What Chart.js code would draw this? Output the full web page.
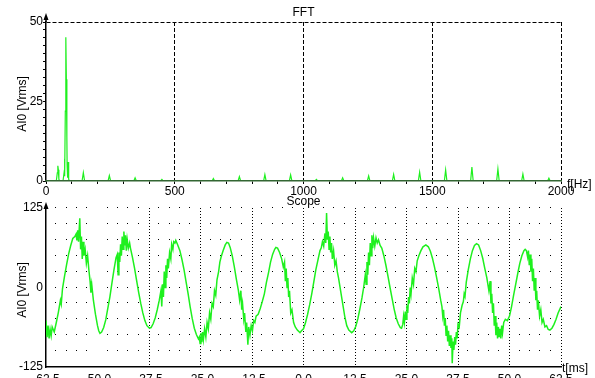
<!DOCTYPE html>
<html>
<head>
<meta charset="utf-8">
<script src="https://cdn.jsdelivr.net/npm/chart.js@4.4.0/dist/chart.umd.min.js"></script>
<style>
  html, body { margin: 0; padding: 0; background: #fff; overflow: hidden; }
  #wrap { position: relative; width: 595px; height: 378px; overflow: hidden; }
  #fftBox { position: absolute; left: 0; top: 0; width: 595px; height: 196px; }
  #scopeBox { position: absolute; left: 0; top: 192px; width: 595px; height: 200px; }
</style>
</head>
<body>
<div id="wrap">
  <div id="fftBox"><canvas id="fftChart"></canvas></div>
  <div id="scopeBox"><canvas id="scopeChart"></canvas></div>
</div>
<script>
// FFT spectrum (Hz, Vrms)
const fftHz = [0, 40, 44, 46, 48, 50, 54, 66, 70, 72, 73, 75, 77, 79, 81, 82, 84, 86, 88, 92,
  140, 145, 150, 241, 246, 251, 341, 346, 351, 445, 450, 455,
  645, 650, 655, 746, 751, 756, 845, 850, 855, 945, 950, 955,
  1045, 1050, 1055, 1147, 1152, 1157, 1248, 1253, 1258, 1345, 1350, 1355,
  1446, 1451, 1456, 1547, 1552, 1557, 1649, 1654, 1659, 1750, 1755, 1760,
  1847, 1852, 1857, 1948, 1953, 1958, 2000];
const fftAmp = [0, 0, 2.6, 4.8, 3.5, 0.5, 0, 0, 2.5, 7, 1.5, 22, 45.2, 32, 14, 5, 1, 6, 0.5, 0,
  0, 2.6, 0, 0, 1.7, 0, 0, 1.0, 0, 0, 0.5, 0,
  0, 0.8, 0, 0, 1.4, 0, 0, 2.0, 0, 0, 1.9, 0,
  0, 0.5, 0, 0, 1.0, 0, 0, 1.6, 0, 0, 2.1, 0,
  0, 2.8, 0, 0, 3.5, 0, 0, 4.4, 0, 0, 3.8, 0,
  0, 2.2, 0, 0, 0.9, 0, 0];

// Scope trace (ms, Vrms)
const scopeMs = [-62.5, -62.25, -62, -61.75, -61.5, -61.25, -61, -60.5, -60, -59.5, -59, -58.8, -58.5, -58, -57.5, -57, -56.5, -56, -55.5, -55.2,
  -55, -54.8, -54.6, -54.3, -54.1, -53.9, -53.7, -53.5, -53.3, -53, -52.7, -52.4, -52.1, -51.8, -51.6, -51.4, -51, -50.5, -50, -49.7,
  -49.4, -49, -48.5, -48, -47.5, -47, -46.5, -46, -45.5, -45.2, -45, -44.8, -44.6, -44.4, -44.2, -44, -43.8, -43.6, -43.4, -43.2,
  -43, -42.8, -42.5, -42.2, -42, -41.5, -41, -40.5, -40, -39.5, -39, -38.5, -38, -37.4, -37, -36.5, -36, -35.5, -35, -34.6,
  -34.4, -34.2, -34, -33.8, -33.6, -33.4, -33.2, -33, -32.8, -32.5, -32.2, -32, -31.7, -31.5, -31.2, -31, -30.6, -30, -29.5, -29,
  -28.5, -28, -27.5, -27, -26.5, -26, -25.5, -25.3, -25.1, -24.9, -24.7, -24.5, -24.3, -24, -23.7, -23.4, -23.1, -22.8, -22.5, -22.2,
  -21.9, -21.6, -21.3, -21, -20.6, -20.3, -20, -19.5, -19, -18.6, -18.2, -17.8, -17.3, -16.8, -16.3, -15.8, -15.5, -15.2, -15, -14.8,
  -14.5, -14.3, -14, -13.8, -13.5, -13.3, -13, -12.7, -12.4, -12.1, -11.8, -11.5, -11, -10.5, -10, -9.5, -9, -8.5, -8, -7.5,
  -7, -6.7, -6.3, -5.8, -5.3, -4.9, -4.6, -4.4, -4.2, -4, -3.8, -3.6, -3.4, -3.1, -2.8, -2.4, -2, -1.5, -0.85, -0.5,
  0, 0.5, 1, 1.5, 2, 2.5, 3, 3.5, 4, 4.3, 4.6, 4.9, 5.2, 5.4, 5.6, 5.8, 6, 6.2, 6.4, 6.6,
  6.8, 7, 7.3, 7.6, 7.9, 8.2, 8.5, 9, 9.5, 10, 10.5, 11, 11.7, 12.2, 12.7, 13.2, 13.7, 14.2, 14.6, 15,
  15.2, 15.4, 15.6, 15.8, 16, 16.2, 16.4, 16.6, 16.8, 17, 17.3, 17.6, 17.9, 18.2, 18.6, 19, 19.5, 20, 20.5, 21,
  21.5, 22, 22.5, 23, 23.5, 23.8, 24.1, 24.3, 24.5, 24.7, 24.9, 25.1, 25.3, 25.5, 25.7, 25.9, 26.1, 26.4, 26.7, 27,
  27.3, 27.6, 28, 28.5, 29, 29.7, 30.3, 30.8, 31.3, 31.8, 32.3, 32.8, 33.3, 33.6, 33.8, 34, 34.2, 34.4, 34.6, 34.8,
  35, 35.2, 35.4, 35.6, 35.8, 36, 36.1, 36.3, 36.5, 36.7, 36.9, 37.1, 37.3, 37.5, 37.8, 38.1, 38.5, 38.8, 39, 39.2,
  39.5, 40, 40.5, 41, 41.5, 42, 42.5, 43, 43.5, 44, 44.5, 45, 45.3, 45.5, 45.7, 45.9, 46.1, 46.3, 46.5, 46.7,
  46.9, 47.1, 47.3, 47.5, 47.7, 47.9, 48.1, 48.3, 48.6, 49, 49.5, 50, 50.5, 51, 51.5, 52, 52.5, 53, 53.5, 53.8,
  54.1, 54.4, 54.6, 54.8, 55, 55.2, 55.4, 55.6, 55.8, 56, 56.2, 56.4, 56.6, 56.8, 57, 57.3, 57.6, 57.9, 58.2, 58.6,
  59, 59.4, 59.8, 60.3, 60.8, 61.3, 61.8, 62.5];
const scopeV = [-52, -78, -60, -80, -66, -76, -62, -70, -55, -39, -20, -26, -2, 18, 36, 53, 66, 77, 80, 84,
  74, 90, 72, 109, 60, 80, 45, 72, 50, 60, 38, 50, 28, 10, -8, 5, -20, -42, -60, -68,
  -72, -70, -63, -51, -33, -15, 7, 28, 47, 52, 20, 55, 40, 68, 50, 80, 60, 88, 66, 82,
  58, 76, 62, 70, 62, 47, 30, 11, -8, -25, -40, -52, -60, -64, -63, -57, -48, -35, -20, -5,
  -30, 5, -15, 25, 0, 35, 15, 45, 30, 55, 45, 68, 60, 72, 70, 74, 68, 58, 44, 28,
  9, -10, -31, -49, -64, -74, -81, -78, -88, -72, -86, -70, -82, -65, -78, -55, -65, -40, -50, -25,
  -30, -5, -12, 12, 25, 40, 48, 58, 67, 71, 70, 63, 50, 33, 13, -5, -20, -5, -35, -25,
  -50, -40, -70, -55, -90, -62, -75, -60, -68, -52, -55, -45, -42, -33, -22, -10, 8, 23, 40, 52,
  60, 63, 62, 55, 45, 32, 40, 10, 30, 0, 15, -15, -5, -40, -35, -55, -62, -67, -71, -68,
  -65, -55, -42, -27, -10, 9, 28, 43, 58, 62, 72, 65, 85, 70, 117, 75, 88, 60, 80, 55,
  70, 45, 58, 35, 42, 25, 15, -5, -25, -45, -60, -67, -71, -68, -61, -49, -33, -16, 0, 20,
  5, 40, 20, 55, 35, 70, 50, 82, 62, 78, 65, 78, 70, 75, 66, 62, 50, 35, 18, 0,
  -17, -34, -48, -57, -63, -64, -58, -45, -55, -38, -50, -28, -40, -15, -25, 0, -10, 15, 5, 30,
  25, 42, 50, 58, 64, 67, 64, 57, 46, 32, 16, -1, -20, -30, -45, -35, -60, -48, -75, -60,
  -85, -68, -92, -75, -95, -80, -119, -85, -98, -78, -90, -70, -80, -58, -62, -40, -28, -22, -10, -14,
  8, 28, 45, 58, 66, 69, 67, 58, 46, 30, 15, -5, 10, -25, -10, -40, -25, -60, -45, -75,
  -55, -80, -62, -78, -65, -80, -60, -72, -55, -50, -52, -45, -30, -12, 5, 22, 38, 50, 58, 60,
  58, 48, 58, 35, 52, 25, 45, 10, 30, -5, 15, -20, -5, -35, -20, -45, -35, -55, -50, -62,
  -60, -66, -67, -64, -58, -50, -40, -30];

const FONT = '"Liberation Sans", Arial, sans-serif';
const TRACE = 'rgb(30, 240, 30)';
Chart.defaults.font.family = FONT;
Chart.defaults.font.size = 12;
Chart.defaults.color = '#000';

// titles, axis captions, arrow on the y axis and the dot grid of the scope
const decor = {
  id: 'decor',
  beforeDatasetsDraw(chart, args, opts) {
    if (!opts.dots) return;
    const { ctx, scales: { x, y } } = chart;
    ctx.save();
    ctx.fillStyle = '#000';
    const nx = Math.round((x.max - x.min) / opts.dots.x);
    const ny = Math.round((y.max - y.min) / opts.dots.y);
    const every = Math.round(opts.dots.major / opts.dots.x);
    for (let i = 1; i <= nx; i++) {
      if (i % every === 0) continue;
      const px = Math.round(x.getPixelForValue(x.min + i * opts.dots.x));
      for (let j = 1; j <= ny; j++) {
        const py = Math.round(y.getPixelForValue(y.min + j * opts.dots.y));
        ctx.fillRect(px - 1, py - 1, 1, 1);
      }
    }
    ctx.restore();
  },
  afterDraw(chart, args, opts) {
    const { ctx, chartArea: a } = chart;
    ctx.save();
    ctx.fillStyle = '#000';
    ctx.font = '12px ' + FONT;
    ctx.textAlign = 'center';
    ctx.textBaseline = 'middle';
    ctx.fillText(opts.title, (a.left + a.right) / 2, opts.titleY);
    ctx.textAlign = 'left';
    ctx.fillText(opts.xTitle, a.right + opts.xTitleDx, opts.xTitleY);
    ctx.translate(opts.yTitleX, opts.yTitleY);
    ctx.rotate(-Math.PI / 2);
    ctx.textAlign = 'center';
    ctx.fillText(opts.yTitle, 0, 0);
    ctx.restore();

    // arrow head on top of the y axis
    ctx.save();
    ctx.strokeStyle = '#000';
    ctx.fillStyle = '#000';
    ctx.lineWidth = 1.5;
    const tip = a.top - opts.arrow;
    ctx.beginPath();
    ctx.moveTo(a.left, a.top);
    ctx.lineTo(a.left, tip + 3);
    ctx.stroke();
    ctx.beginPath();
    ctx.moveTo(a.left, tip);
    ctx.lineTo(a.left - 2.5, tip + 7);
    ctx.lineTo(a.left + 2.5, tip + 7);
    ctx.closePath();
    ctx.fill();
    ctx.restore();
  }
};

const isMulti = (v, m) => Math.abs(v / m - Math.round(v / m)) < 1e-6;

new Chart(document.getElementById('fftChart'), {
  type: 'line',
  data: {
    datasets: [{
      data: fftHz.map((f, i) => ({ x: f, y: fftAmp[i] })),
      borderColor: TRACE,
      borderWidth: 1.2,
      pointRadius: 0,
      tension: 0,
      fill: false
    }]
  },
  plugins: [decor],
  options: {
    animation: false,
    responsive: true,
    maintainAspectRatio: false,
    layout: { padding: { top: 22, right: 34, left: 0, bottom: 0 } },
    plugins: {
      legend: { display: false },
      tooltip: { enabled: false },
      decor: { title: 'FFT', titleY: 12.5, xTitle: 'f[Hz]', xTitleDx: 6, xTitleY: 185, yTitle: 'AI0 [Vrms]', yTitleX: 23, yTitleY: 104, arrow: 9 }
    },
    scales: {
      x: {
        type: 'linear', min: 0, max: 2000,
        ticks: { stepSize: 100, autoSkip: false, maxRotation: 0, padding: 0, callback: v => isMulti(v, 500) ? String(v) : '' },
        grid: { color: c => (c.tick && c.tick.value > 0 && isMulti(c.tick.value, 500)) ? '#000' : 'rgba(0,0,0,0)', lineWidth: 1, tickColor: '#000', tickLength: 3 },
        border: { color: '#336633', width: 1.5, dash: [4, 2], z: 1 },
        afterFit: s => { s.paddingLeft = 0; s.paddingRight = 0; s.height = 15; }
      },
      y: {
        min: 0, max: 50,
        ticks: { stepSize: 2.5, autoSkip: false, padding: 0, callback: v => isMulti(v, 25) ? String(v) : '' },
        grid: { color: c => (c.tick && c.tick.value === 50) ? '#000' : 'rgba(0,0,0,0)', lineWidth: 1, tickColor: '#000', tickLength: 3 },
        border: { color: '#000', width: 1.5, dash: [4, 2] },
        afterFit: s => { s.paddingTop = 0; s.paddingBottom = 0; s.width = 46; }
      }
    }
  }
});

new Chart(document.getElementById('scopeChart'), {
  type: 'line',
  data: {
    datasets: [{
      data: scopeMs.map((t, i) => ({ x: t, y: scopeV[i] })),
      borderColor: TRACE,
      borderWidth: 1.5,
      pointRadius: 0,
      tension: 0,
      fill: false
    }]
  },
  plugins: [decor],
  options: {
    animation: false,
    responsive: true,
    maintainAspectRatio: false,
    layout: { padding: { top: 16, right: 34, left: 0, bottom: 0 } },
    plugins: {
      legend: { display: false },
      tooltip: { enabled: false },
      decor: { title: 'Scope', titleY: 9.5, xTitle: 't[ms]', xTitleDx: 1, xTitleY: 177, yTitle: 'AI0 [Vrms]', yTitleX: 23, yTitleY: 98, arrow: 6,
               dots: { x: 2.5, y: 25, major: 12.5 } }
    },
    scales: {
      x: {
        type: 'linear', min: -62.5, max: 62.5,
        ticks: { stepSize: 12.5, autoSkip: false, maxRotation: 0, padding: 5, callback: v => v.toFixed(1) },
        grid: { color: c => (c.tick && c.tick.value > -50.1) && !(Math.abs(c.tick.value + 50) < 1e-6) ? '#000' : 'rgba(0,0,0,0)', lineWidth: 1, drawTicks: false },
        border: { color: '#000', width: 1.5, dash: [1, 2] },
        afterFit: s => { s.paddingLeft = 0; s.paddingRight = 0; s.height = 25; }
      },
      y: {
        min: -125, max: 125,
        ticks: { stepSize: 125, autoSkip: false, padding: 3 },
        grid: { display: false, drawTicks: false },
        border: { color: '#000', width: 1.5 },
        afterFit: s => { s.paddingTop = 0; s.paddingBottom = 0; s.width = 46; }
      }
    }
  }
});
</script>
</body>
</html>
